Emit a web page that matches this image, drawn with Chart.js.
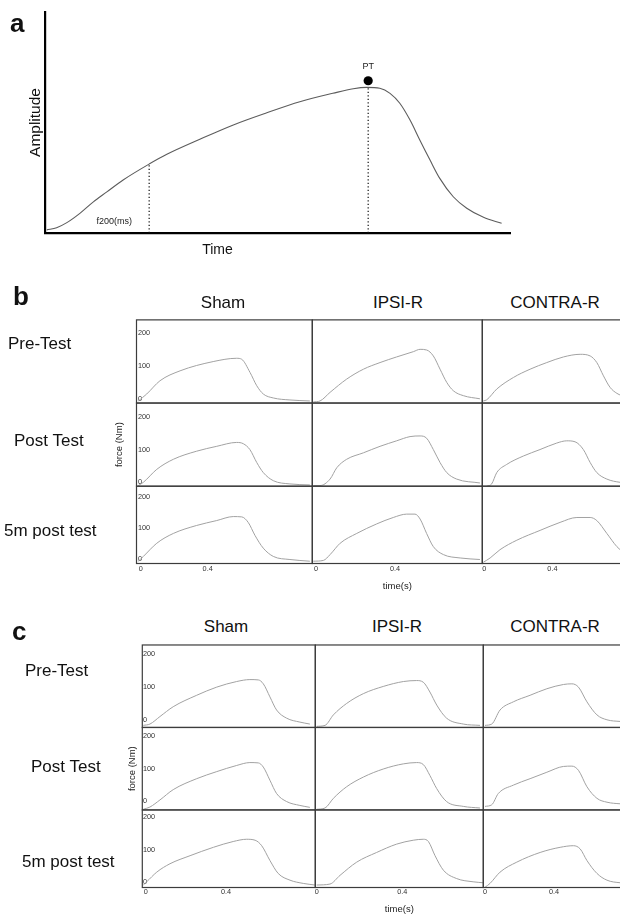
<!DOCTYPE html>
<html>
<head>
<meta charset="utf-8">
<script src="https://cdn.jsdelivr.net/npm/chart.js@4.4.1/dist/chart.umd.min.js"></script>
<style>
  html, body { margin: 0; padding: 0; background: #fff; }
  body { width: 620px; height: 915px; position: relative; overflow: hidden;
         font-family: "Liberation Sans", Arial, Helvetica, sans-serif; color: #111; }
  canvas { position: absolute; left: 0; }
  .txt { position: absolute; white-space: nowrap; line-height: 1; }
  .mid { transform: translate(-50%, -50%); }
  .vmid { transform: translateY(-50%); }
  .letter { position: absolute; font-weight: bold; font-size: 26px; line-height: 1; }
</style>
</head>
<body>
<canvas id="chartA" width="620" height="270" style="top:0"></canvas>
<canvas id="chartB" width="655" height="279" style="top:314px"></canvas>
<canvas id="chartC" width="656" height="275" style="top:640px"></canvas>
<div id="labels"></div>

<script>
// ---------- categories and ticks ----------
const groups = ['Sham', 'IPSI-R', 'CONTRA-R'];
const sessions = ['Pre-Test', 'Post Test', '5m post test'];
const forceTicks = [0, 100, 200];
const timeTicks = [0, 0.4];

// ---------- panel a: schematic force-time trace [time, amplitude] ----------
const aCurve = [[0.4,1.4],[2.5,2.4],[4.7,4.7],[7.5,8.9],[10.4,14.1],[13.3,18.6],[16.8,24.0],[22.4,31.2],
  [26.2,35.6],[33.3,42.4],[40.5,48.9],[47.7,54.4],[54.8,59.4],[61.9,63.2],[66.3,65.3],[69.2,65.9],
  [72.0,65.5],[74.2,63.2],[76.3,58.7],[78.5,51.1],[80.6,42.1],[82.8,33.0],[84.9,24.7],[87.8,16.4],
  [90.7,11.2],[94.3,7.1],[98.2,4.4]];
const f200Mark = [22.4, 31.2];   // time, amplitude where f200 is read
const ptMark = [69.5, 65.9];     // time, amplitude of the peak
const ptDot = [69.5, 68.9];

// ---------- panel b: force (Nm) vs time (s) ----------
const bShamPre    = [[-0.014,-5],[0.036,16],[0.115,56],[0.235,86],[0.433,114],[0.573,124],[0.603,121],[0.653,81],[0.693,41],[0.732,16],[0.792,4],[0.891,-2],[1.01,-5]];
const bIpsiPre    = [[-0.014,-8],[0.02,-5],[0.071,21],[0.155,61],[0.24,91],[0.324,111],[0.408,128],[0.493,144],[0.527,151],[0.56,149],[0.594,131],[0.628,91],[0.662,51],[0.695,26],[0.746,11],[0.83,1.5]];
const bContraPre  = [[-0.006,-5],[0.014,-1.5],[0.073,31],[0.171,66],[0.269,91],[0.367,111],[0.465,128],[0.563,136],[0.622,131],[0.661,111],[0.7,71],[0.739,36],[0.779,18],[0.83,7]];
const bShamPost   = [[-0.014,-10],[0.016,0],[0.096,40],[0.195,71],[0.334,96],[0.454,111],[0.573,123],[0.613,119],[0.652,101],[0.693,61],[0.732,30],[0.792,5],[0.891,-5],[1.01,-8]];
const bIpsiPost   = [[-0.014,-10],[0.02,-10],[0.071,10],[0.105,45],[0.155,71],[0.24,91],[0.324,111],[0.408,128],[0.476,141],[0.527,143],[0.56,136],[0.594,101],[0.628,61],[0.662,30],[0.712,10],[0.83,-2]];
const bContraPost = [[0.014,-12],[0.043,-5],[0.073,30],[0.131,55],[0.229,81],[0.327,101],[0.425,121],[0.484,128],[0.533,125],[0.582,101],[0.622,61],[0.661,30],[0.72,10],[0.798,0],[0.83,-1]];
const bSham5m     = [[-0.014,-8.5],[0.016,7],[0.096,50],[0.195,82],[0.334,108],[0.454,124],[0.553,137],[0.603,136],[0.642,118],[0.682,76],[0.732,34],[0.792,7],[0.891,-3],[1.01,-8.5]];
const bIpsi5m     = [[-0.014,-8.5],[0.037,-6],[0.071,13],[0.122,50],[0.206,82],[0.307,113],[0.391,134],[0.459,145],[0.501,145],[0.527,129],[0.56,82],[0.594,39],[0.645,13],[0.73,2],[0.83,-3]];
const bContra5m   = [[-0.006,-12],[0.034,2],[0.092,29],[0.191,60],[0.328,92],[0.445,118],[0.544,134],[0.622,134],[0.661,124],[0.72,82],[0.779,39],[0.83,15]];

// ---------- panel c: force (Nm) vs time (s) ----------
const cShamPre    = [[-0.012,-17],[0.021,-13],[0.071,10],[0.137,40],[0.254,75],[0.354,100],[0.453,117],[0.519,123],[0.561,122],[0.586,110],[0.619,70],[0.652,30],[0.702,5],[0.768,-7],[0.818,-13]];
const cIpsiPre    = [[0,-20],[0.039,-17],[0.078,15],[0.14,50],[0.218,80],[0.311,102],[0.405,117],[0.467,120],[0.498,115],[0.529,85],[0.561,45],[0.607,5],[0.685,-13],[0.763,-17]];
const cContraPre  = [[0,-17],[0.039,-13],[0.087,30],[0.164,55],[0.261,75],[0.358,95],[0.454,108],[0.503,110],[0.541,100],[0.59,55],[0.648,15],[0.706,0],[0.783,-5],[0.85,-7]];
const cShamPost   = [[-0.012,-26],[0.021,-19],[0.071,3],[0.137,35],[0.254,69],[0.354,91],[0.453,110],[0.519,119],[0.561,118],[0.586,105],[0.619,64],[0.652,23],[0.702,-2],[0.768,-14],[0.818,-20]];
const cIpsiPost   = [[0,-26],[0.039,-22],[0.078,8],[0.14,44],[0.218,74],[0.311,99],[0.405,115],[0.467,119],[0.498,113],[0.529,79],[0.561,38],[0.607,-2],[0.685,-17],[0.763,-22]];
const cContraPost = [[0,-17],[0.039,-12],[0.077,23],[0.164,49],[0.261,69],[0.358,89],[0.454,107],[0.503,108],[0.541,95],[0.59,44],[0.648,8],[0.706,-4],[0.783,-9],[0.85,-11]];
const cSham5m     = [[-0.012,-10],[0.005,0],[0.055,30],[0.121,56],[0.221,81],[0.337,107],[0.436,125],[0.503,132],[0.545,129],[0.578,112],[0.619,66],[0.66,26],[0.719,5],[0.785,-5],[0.843,-10]];
const cIpsi5m     = [[0,-10],[0.062,-7],[0.109,20],[0.187,61],[0.28,91],[0.374,117],[0.451,129],[0.498,132],[0.522,125],[0.553,81],[0.592,36],[0.654,10],[0.731,0],[0.778,-3]];
const cContra5m   = [[0,-17],[0.029,-5],[0.087,30],[0.184,61],[0.319,91],[0.435,107],[0.512,112],[0.551,102],[0.59,66],[0.648,26],[0.706,5],[0.783,-3],[0.85,-5]];

const FONT = '"Liberation Sans", Arial, Helvetica, sans-serif';
Chart.defaults.font.family = FONT;

// ---------- panel a ----------
const notes = {
  id: 'notes',
  afterDatasetsDraw(chart, _args, opts) {
    const {ctx, scales: {x, y}} = chart;
    ctx.save();
    ctx.fillStyle = opts.color;
    ctx.font = opts.size + 'px ' + FONT;
    ctx.textAlign = 'center';
    ctx.textBaseline = 'middle';
    opts.items.forEach(n => {
      ctx.fillText(n.text, x.getPixelForValue(n.x), y.getPixelForValue(n.y) + n.dy);
    });
    ctx.restore();
  }
};

new Chart(document.getElementById('chartA'), {
  type: 'line',
  data: {
    datasets: [
      { data: aCurve, borderColor: '#5c5c5c', borderWidth: 1.1, pointRadius: 0, cubicInterpolationMode: 'monotone' },
      { data: [[f200Mark[0], 0], f200Mark], borderColor: '#111', borderWidth: 1.2, borderDash: [1.3, 2.2], pointRadius: 0 },
      { data: [[ptMark[0], 0], ptMark], borderColor: '#111', borderWidth: 1.2, borderDash: [1.3, 2.2], pointRadius: 0 },
      { data: [ptDot], showLine: false, pointRadius: 4.6, pointBackgroundColor: '#000', pointBorderWidth: 0 }
    ]
  },
  options: {
    responsive: false, animation: false, events: [],
    layout: { padding: { top: 12, right: 110, bottom: 7, left: 0 } },
    plugins: {
      legend: { display: false }, tooltip: { enabled: false },
      notes: { color: '#222', size: 9, items: [
        { text: 'PT', x: ptDot[0], y: ptDot[1], dy: -14 },
        { text: 'f200(ms)', x: 14.9, y: 5.4, dy: 0 }
      ] }
    },
    scales: {
      x: { type: 'linear', min: 0, max: 100,
           grid: { display: false, drawTicks: false }, ticks: { display: false },
           border: { color: '#000', width: 2.2 },
           afterFit: s => { s.height = 30; } },
      y: { type: 'linear', min: 0, max: 100,
           grid: { display: false, drawTicks: false }, ticks: { display: false },
           border: { color: '#000', width: 2.2 },
           title: { display: true, text: 'Amplitude', color: '#111', font: { size: 15.5 }, padding: { top: 26, bottom: 0 } },
           afterFit: s => { s.width = 45; } }
    }
  },
  plugins: [notes]
});

// ---------- panels b and c: 3x3 small multiples on one chart each ----------
const cellFrames = {
  id: 'cellFrames',
  afterDatasetsDraw(chart, _args, opts) {
    const all = Object.values(chart.scales);
    const xs = all.filter(s => s.axis === 'x');
    const ys = all.filter(s => s.axis === 'y');
    const ctx = chart.ctx;
    ctx.save();
    ctx.strokeStyle = opts.color;
    ctx.lineWidth = opts.width;
    xs.forEach(x => ys.forEach(y => ctx.strokeRect(x.left, y.top, x.right - x.left, y.bottom - y.top)));
    ctx.restore();
  }
};

function gridChart(id, curves, g) {
  const scales = {};
  g.colW.forEach((w, j) => {
    scales['x' + j] = {
      type: 'linear', position: 'bottom', stack: 'cols', stackWeight: w,
      min: g.tRange[j][0], max: g.tRange[j][1],
      grid: { display: false, drawTicks: false }, border: { display: false },
      afterBuildTicks: s => { s.ticks = timeTicks.map(v => ({ value: v })); },
      afterFit: s => { s.height = g.xAxisH; },
      ticks: { padding: g.xTickPad, color: '#333', font: { size: 7.3 }, maxRotation: 0, autoSkip: false,
               callback: v => String(v) },
      title: { display: j === 1, text: 'time(s)', color: '#222', font: { size: 9.5 }, padding: { top: 0, bottom: 0 } }
    };
  });
  // left axes are stacked in reverse order of definition, so the bottom row is listed first
  for (let i = g.rowH.length - 1; i >= 0; i--) {
    scales['y' + i] = {
      type: 'linear', position: 'left', stack: 'rows', stackWeight: g.rowH[i],
      min: g.fRange[i][0], max: g.fRange[i][1],
      grid: { display: false, drawTicks: false }, border: { display: false },
      afterBuildTicks: s => { s.ticks = forceTicks.map(v => ({ value: v })); },
      afterFit: s => { s.width = g.yAxisW; },
      ticks: { mirror: true, padding: g.yTickPad, color: '#333', font: { size: 7.3 } },
      title: { display: i === 1, text: 'force (Nm)', color: '#222', font: { size: 9.5 }, padding: { top: g.yTitlePad, bottom: 0 } }
    };
  }
  const datasets = [];
  curves.forEach((row, i) => row.forEach((pts, j) => {
    datasets.push({ data: pts, xAxisID: 'x' + j, yAxisID: 'y' + i,
      borderColor: '#a2a2a2', borderWidth: 1, pointRadius: 0, cubicInterpolationMode: 'monotone' });
  }));
  return new Chart(document.getElementById(id), {
    type: 'line',
    data: { datasets },
    options: {
      responsive: false, animation: false, events: [],
      layout: { padding: g.pad },
      plugins: { legend: { display: false }, tooltip: { enabled: false },
                 cellFrames: { color: '#3c3c3c', width: 1.2 } },
      scales
    },
    plugins: [cellFrames]
  });
}

gridChart('chartB', [
  [bShamPre, bIpsiPre, bContraPre],
  [bShamPost, bIpsiPost, bContraPost],
  [bSham5m, bIpsi5m, bContra5m]
], {
  colW: [175.8, 170, 172.2], rowH: [85, 85, 79],
  tRange: [[-0.025, 1.0246], [-0.019, 0.842], [-0.012, 1.0]],
  fRange: [[-11.3, 240], [-12, 244.5], [-16, 236]],
  pad: { top: 0.5, left: 100, right: 0.5, bottom: 0.5 },
  yAxisW: 36.5, xAxisH: 29, xTickPad: 1.6, yTickPad: 1.5, yTitlePad: 13.3
});

gridChart('chartC', [
  [cShamPre, cIpsiPre, cContraPre],
  [cShamPost, cIpsiPost, cContraPost],
  [cSham5m, cIpsi5m, cContra5m]
], {
  colW: [173, 168, 172.2], rowH: [84, 84, 79],
  tRange: [[-0.017, 0.845], [-0.0065, 0.7785], [-0.0099, 0.987]],
  fRange: [[-23.4, 228.8], [-28, 228], [-17.7, 223]],
  pad: { top: 0.5, left: 100, right: 0.5, bottom: 0 },
  yAxisW: 42.3, xAxisH: 27.5, xTickPad: 0, yTickPad: 0.6, yTitlePad: 26.3
});

// ---------- text around the panels ----------
const labelsEl = document.getElementById('labels');
function addText(text, x, y, size, cls) {
  const d = document.createElement('div');
  d.className = 'txt ' + cls;
  d.textContent = text;
  d.style.left = x + 'px';
  d.style.top = y + 'px';
  d.style.fontSize = size + 'px';
  labelsEl.appendChild(d);
}
function addLetter(ch, x, baseline) {
  const d = document.createElement('div');
  d.className = 'letter';
  d.textContent = ch;
  d.style.left = x + 'px';
  d.style.top = (baseline - 22) + 'px';
  labelsEl.appendChild(d);
}

addLetter('a', 10, 32);
addLetter('b', 13, 305);
addLetter('c', 12, 640);
addText('Time', 217.5, 249, 14, 'mid');

const headerX = { b: [223, 398, 555], c: [226, 397, 555] };
const headerY = { b: 301.5, c: 626 };
const rowLeft = { b: [8, 14, 4], c: [25, 31, 22] };
const rowY = { b: [343, 440, 530], c: [670, 766, 861] };
['b', 'c'].forEach(p => {
  groups.forEach((g, j) => addText(g, headerX[p][j], headerY[p], 17, 'mid'));
  sessions.forEach((s, i) => addText(s, rowLeft[p][i], rowY[p][i], 17, 'vmid'));
});
</script>
</body>
</html>
